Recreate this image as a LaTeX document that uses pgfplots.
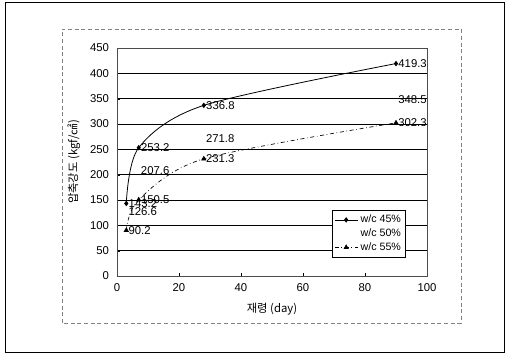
\documentclass[border=0pt]{standalone}
\usepackage{pgfplots}
\pgfplotsset{compat=1.18}
\usepackage{fontspec}
\setmainfont{Liberation Sans}
\newfontfamily\kr{Noto Sans CJK KR}
\begin{document}
\begin{tikzpicture}
% page and outer frame
\path (0pt,0pt) rectangle (381pt,265.5pt);
\draw[black, line width=0.6pt] (3.75pt,1.5pt) rectangle (378pt,264pt);
% chart area
\draw[gray, densely dashed, line width=0.6pt] (46.5pt,23.25pt) rectangle (345.75pt,243.75pt);
\begin{axis}[
  at={(87.75pt,58.5pt)}, anchor=south west,
  scale only axis, width=232.5pt, height=171pt,
  xmin=0, xmax=100, ymin=0, ymax=450,
  xtick={0,20,...,100}, ytick={0,50,...,450},
  ymajorgrids, grid style={black, line width=0.6pt},
  axis line style={black!70, line width=0.6pt},
  tick align=inside, major tick length=2pt,
  xtick pos=bottom, ytick pos=left,
  tick style={black},
  ticklabel style={font=\fontsize{8.5}{10}\selectfont},
  yticklabel style={xshift=-2.5pt},
  xticklabel style={yshift=-2pt},
  /pgf/number format/assume math mode=true,
  xlabel={\kr 재령 (day)}, ylabel={\kr 압축강도 (kgf/㎠)},
  label style={font=\fontsize{8.5}{10}\selectfont},
  xlabel style={at={(rel axis cs:0.5,-0.145)}, anchor=center},
  ylabel style={at={(rel axis cs:-0.139,0.5)}, anchor=center},
  point meta=explicit symbolic,
  nodes near coords,
  nodes near coords style={anchor=west, font=\fontsize{8.5}{10}\selectfont, inner sep=1.5pt},
  legend style={at={(0.694,0.289)}, anchor=north west, draw=black,
    font=\fontsize{8}{9.5}\selectfont, row sep=-1pt, inner sep=1.5pt},
  legend cell align=left,
]
\addplot[black, line width=0.6pt, smooth, tension=0.5, mark=diamond*, mark size=1.6pt]
  coordinates {(3,143.2)[143.2] (7,253.2)[253.2] (28,336.8)[336.8] (90,419.3)[419.3]};
\addlegendentry{w/c 45\%}
\addplot[draw=none, mark=none, legend image code/.code={}]
  coordinates {(3,126.6)[126.6] (7,207.6)[207.6] (28,271.8)[271.8] (90,348.5)[348.5]};
\addlegendentry{w/c 50\%}
\addplot[black, line width=0.5pt, smooth, tension=0.5, dash dot, mark=triangle*, mark size=1.8pt, mark options={solid}]
  coordinates {(3,90.2)[90.2] (7,150.5)[150.5] (28,231.3)[231.3] (90,302.3)[302.3]};
\addlegendentry{w/c 55\%}
\end{axis}
\end{tikzpicture}
\end{document}
